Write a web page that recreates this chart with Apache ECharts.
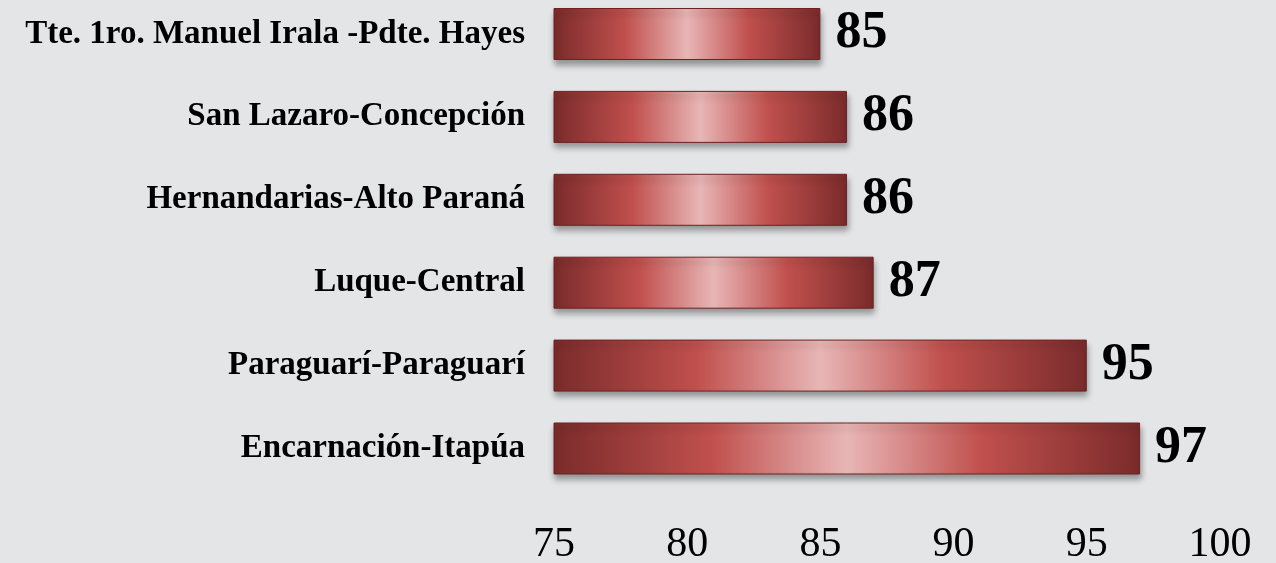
<!DOCTYPE html>
<html>
<head>
<meta charset="utf-8">
<script src="https://cdn.jsdelivr.net/npm/echarts@6/dist/echarts.min.js"></script>
<style>
  html, body { margin: 0; padding: 0; background: #e4e5e7; }
  #chart { width: 1276px; height: 563px; }
</style>
</head>
<body>
<div id="chart"></div>
<script>
// categorias de arriba hacia abajo
var categories = [
  'Tte. 1ro. Manuel Irala -Pdte. Hayes',
  'San Lazaro-Concepción',
  'Hernandarias-Alto Paraná',
  'Luque-Central',
  'Paraguarí-Paraguarí',
  'Encarnación-Itapúa'
];
var values = [85, 86, 86, 87, 95, 97];
var tickMin = 75;
var tickMax = 100;
var tickStep = 5;

var serif = '"Liberation Serif", "DejaVu Serif", serif';

var chart = echarts.init(document.getElementById('chart'));

var barColor = new echarts.graphic.LinearGradient(0, 0, 1, 0, [
  { offset: 0, color: '#7a2b2b' },
  { offset: 0.27, color: '#c0504d' },
  { offset: 0.5, color: '#e8b6b6' },
  { offset: 0.73, color: '#c0504d' },
  { offset: 1, color: '#7a2b2b' }
]);

var option = {
  backgroundColor: '#e4e5e7',
  animation: false,
  grid: {
    left: 554,
    right: 56,
    top: 34,
    bottom: 114.5,
    containLabel: false,
    outerBoundsMode: 'none'
  },
  xAxis: {
    type: 'value',
    min: tickMin,
    max: tickMax,
    interval: tickStep,
    axisLine: { show: false },
    axisTick: { show: false },
    splitLine: { show: false },
    axisLabel: {
      margin: 75,
      color: '#000',
      fontFamily: serif,
      fontSize: 42
    }
  },
  yAxis: {
    type: 'category',
    inverse: true,
    boundaryGap: false,
    data: categories,
    axisLine: { show: false },
    axisTick: { show: false },
    splitLine: { show: false },
    axisLabel: {
      margin: 29,
      color: '#000',
      fontFamily: serif,
      fontWeight: 'bold',
      fontSize: 33
    }
  },
  series: [{
    type: 'bar',
    data: values,
    barWidth: 52,
    itemStyle: {
      color: barColor,
      borderColor: '#6e2222',
      borderWidth: 1,
      shadowColor: 'rgba(0,0,0,0.35)',
      shadowBlur: 6,
      shadowOffsetY: 5,
      shadowOffsetX: 1
    },
    label: {
      show: true,
      position: 'right',
      distance: 15,
      color: '#000',
      fontFamily: serif,
      fontWeight: 'bold',
      fontSize: 52
    }
  }]
};

chart.setOption(option);
</script>
</body>
</html>
